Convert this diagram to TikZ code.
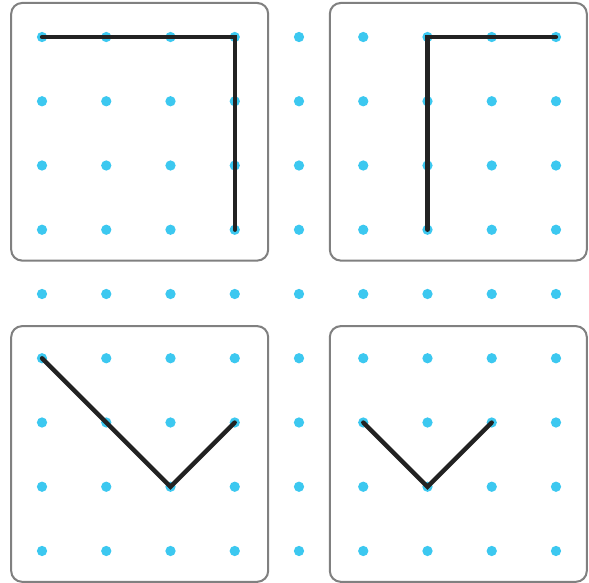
\documentclass[tikz,border=0pt]{standalone}
\usepackage{tikz}
\usetikzlibrary{calc}
\definecolor{pegBlue}{RGB}{60,200,240}
\definecolor{boardGray}{RGB}{128,128,128}
\definecolor{bandBlack}{RGB}{34,34,34}
\tikzset{
  peg/.style={circle, fill=pegBlue, inner sep=0pt, minimum size=0.16cm},
  board/.style={draw=boardGray, line width=0.9pt, rounded corners=0.17cm},
  band/.style={draw=bandBlack, line width=1.9pt, line cap=round, line join=miter}
}
\begin{document}
\begin{tikzpicture}
  \useasboundingbox (-0.654,0.576) rectangle (8.514,-8.498);
  % boards
  \draw[board] (-0.48,0.53) rectangle (3.52,-3.48);
  \draw[board] (4.48,0.53) rectangle (8.48,-3.48);
  \draw[board] (-0.48,-4.5) rectangle (3.52,-8.48);
  \draw[board] (4.48,-4.5) rectangle (8.48,-8.48);
  % pegs
  \foreach \i in {0,...,8}
    \foreach \j in {0,...,8}
      \node[peg] (p-\i-\j) at (\i,-\j) {};
  % bands
  \draw[band] (p-0-0.center) -- (p-3-0.center) -- (p-3-3.center);
  \draw[band] (p-6-3.center) -- (p-6-0.center) -- (p-8-0.center);
  \draw[band] (p-0-5.center) -- (p-2-7.center) -- (p-3-6.center);
  \draw[band] (p-5-6.center) -- (p-6-7.center) -- (p-7-6.center);
\end{tikzpicture}
\end{document}
